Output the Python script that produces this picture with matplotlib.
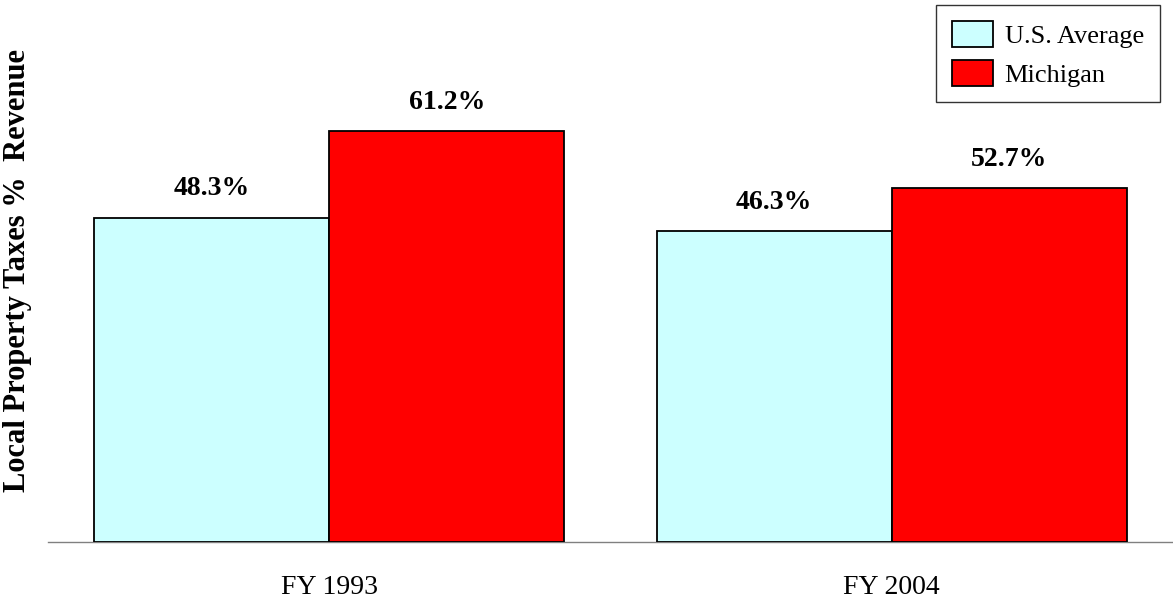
import matplotlib
matplotlib.use("Agg")
import matplotlib.pyplot as plt
import numpy as np
from matplotlib.patches import Patch

# Data
years = ["FY 1993", "FY 2004"]
us_average = [48.3, 46.3]
michigan = [61.2, 52.7]
series_names = ["U.S. Average", "Michigan"]
colors = ["#CCFFFF", "#FF0000"]

plt.rcParams["font.family"] = ["Liberation Serif", "DejaVu Serif"]

W, H, DPI = 1173, 603, 100
fig = plt.figure(figsize=(W / DPI, H / DPI), dpi=DPI)
ax = fig.add_axes([48 / W, (H - 542) / H, 1 - 48 / W, (542 - 5) / H])

x = np.arange(len(years))
width = 0.418
b1 = ax.bar(x - width / 2, us_average, width, color=colors[0], edgecolor="black", linewidth=1.3, zorder=3)
b2 = ax.bar(x + width / 2, michigan, width, color=colors[1], edgecolor="black", linewidth=1.3, zorder=3)

for bars, vals in ((b1, us_average), (b2, michigan)):
    for rect, v in zip(bars, vals):
        ax.annotate(f"{v:.1f}%", (rect.get_x() + rect.get_width() / 2, v),
                    xytext=(0, 12), textcoords="offset points",
                    ha="center", va="bottom", fontsize=20, fontweight="bold")

ax.set_xlim(-0.5, 1.5)
ax.set_ylim(0, 80)
ax.set_xticks(x)
ax.set_xticklabels(years, fontsize=20)
ax.tick_params(axis="x", length=0, pad=24)
ax.set_yticks([])
for side in ("top", "right", "left"):
    ax.spines[side].set_visible(False)
ax.spines["bottom"].set_color("#808080")
ax.spines["bottom"].set_linewidth(1.0)

fig.text(18 / W, 1 - 270 / H, "Local Property Taxes %  Revenue", rotation=90,
         ha="center", va="center", fontsize=22, fontweight="bold")

handles = [Patch(facecolor=c, edgecolor="black", linewidth=1.3) for c in colors]
leg = ax.legend(handles, series_names, loc="upper left",
                bbox_to_anchor=(936 / W, 1 - 5 / H), bbox_transform=fig.transFigure,
                fontsize=19, frameon=True, fancybox=False, shadow=False,
                handlelength=1.55, handleheight=1.14, handletextpad=0.45,
                labelspacing=0.45, borderpad=0.6, borderaxespad=0)
leg.get_frame().set_edgecolor("black")
leg.get_frame().set_linewidth(1.0)

fig.savefig("out.png", dpi=DPI)
